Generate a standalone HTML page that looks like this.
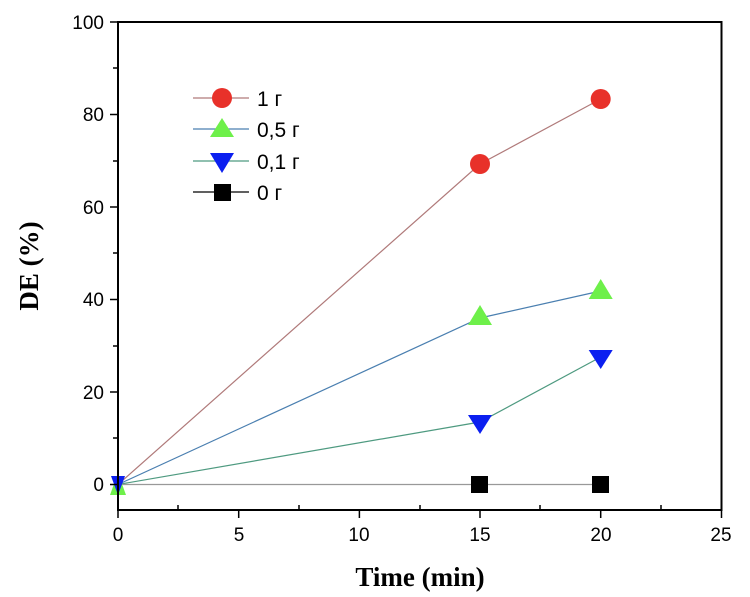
<!DOCTYPE html>
<html><head><meta charset="utf-8"><style>body{margin:0;background:#fff}svg{display:block}</style></head><body>
<svg width="750" height="597" viewBox="0 0 750 597" xmlns="http://www.w3.org/2000/svg" font-family="Liberation Sans, Arial, sans-serif">
<rect width="750" height="597" fill="#fff"/>
<polyline points="118,484.5 480,164 600.7,99" fill="none" stroke="#b07a7a" stroke-width="1.2"/>
<polyline points="118,484.5 480,318 600.7,291" fill="none" stroke="#4a7fb0" stroke-width="1.2"/>
<polyline points="118,484.5 480,422 600.7,357" fill="none" stroke="#4e9a80" stroke-width="1.2"/>
<polyline points="118,484.5 480,484.5 600.7,484.5" fill="none" stroke="#999" stroke-width="1.2"/>
<rect x="471" y="476" width="17" height="17" fill="#000"/>
<rect x="592" y="476" width="17" height="17" fill="#000"/>
<circle cx="480" cy="164" r="10" fill="#e8312a"/>
<circle cx="600.7" cy="99" r="10" fill="#e8312a"/>
<polygon points="480,305 468,325 492,325" fill="#6ef04a"/>
<polygon points="600.7,279 588.7,299 612.7,299" fill="#6ef04a"/>
<polygon points="468,415 492,415 480,434" fill="#0b1ff0"/>
<polygon points="588.7,350 612.7,350 600.7,369" fill="#0b1ff0"/>
<polygon points="118,473 110,495 126,495" fill="#6ef04a"/>
<polygon points="111,476 125,476 118,495" fill="#0b1ff0"/>
<rect x="118" y="22" width="603.5" height="488" fill="none" stroke="#000" stroke-width="2"/>
<g stroke="#000" stroke-width="1.5">
<line x1="110" y1="484.5" x2="118" y2="484.5"/><line x1="110" y1="392" x2="118" y2="392"/><line x1="110" y1="299.5" x2="118" y2="299.5"/><line x1="110" y1="207" x2="118" y2="207"/><line x1="110" y1="114.5" x2="118" y2="114.5"/><line x1="110" y1="22" x2="118" y2="22"/>
<line x1="113" y1="438" x2="118" y2="438"/><line x1="113" y1="346" x2="118" y2="346"/><line x1="113" y1="253" x2="118" y2="253"/><line x1="113" y1="161" x2="118" y2="161"/><line x1="113" y1="68" x2="118" y2="68"/>
<line x1="118" y1="510" x2="118" y2="518"/><line x1="238.7" y1="510" x2="238.7" y2="518"/><line x1="359.4" y1="510" x2="359.4" y2="518"/><line x1="480" y1="510" x2="480" y2="518"/><line x1="600.7" y1="510" x2="600.7" y2="518"/><line x1="721.5" y1="510" x2="721.5" y2="518"/>
<line x1="178" y1="505" x2="178" y2="510"/><line x1="299" y1="505" x2="299" y2="510"/><line x1="420" y1="505" x2="420" y2="510"/><line x1="540" y1="505" x2="540" y2="510"/><line x1="661" y1="505" x2="661" y2="510"/>
</g>
<g font-size="19" fill="#000" text-anchor="end">
<text x="104" y="491">0</text><text x="104" y="399">20</text><text x="104" y="306">40</text><text x="104" y="214">60</text><text x="104" y="121">80</text><text x="104" y="29">100</text>
</g>
<g font-size="19" fill="#000" text-anchor="middle">
<text x="118" y="541">0</text><text x="239" y="541">5</text><text x="359" y="541">10</text><text x="480" y="541">15</text><text x="601" y="541">20</text><text x="721" y="541">25</text>
</g>
<text x="420" y="586" font-family="Liberation Serif, serif" font-weight="bold" font-size="27" text-anchor="middle">Time (min)</text>
<text transform="translate(38,266) rotate(-90)" font-family="Liberation Serif, serif" font-weight="bold" font-size="27" text-anchor="middle">DE (%)</text>
<line x1="193" y1="98" x2="249" y2="98" stroke="#b07a7a" stroke-width="1.2"/><circle cx="222" cy="98" r="10" fill="#e8312a"/>
<line x1="193" y1="129" x2="249" y2="129" stroke="#4a7fb0" stroke-width="1.2"/><polygon points="222,118 210,137 234,137" fill="#6ef04a"/>
<line x1="193" y1="161" x2="249" y2="161" stroke="#4e9a80" stroke-width="1.2"/><polygon points="210,153 234,153 222,173" fill="#0b1ff0"/>
<line x1="193" y1="192" x2="249" y2="192" stroke="#000" stroke-width="1.2"/><rect x="214" y="184" width="17" height="17" fill="#000"/>
<g font-size="21" fill="#000">
<text x="257" y="106">1 г</text><text x="257" y="137">0,5 г</text><text x="257" y="169">0,1 г</text><text x="257" y="200">0 г</text>
</g>
</svg>
</body></html>
